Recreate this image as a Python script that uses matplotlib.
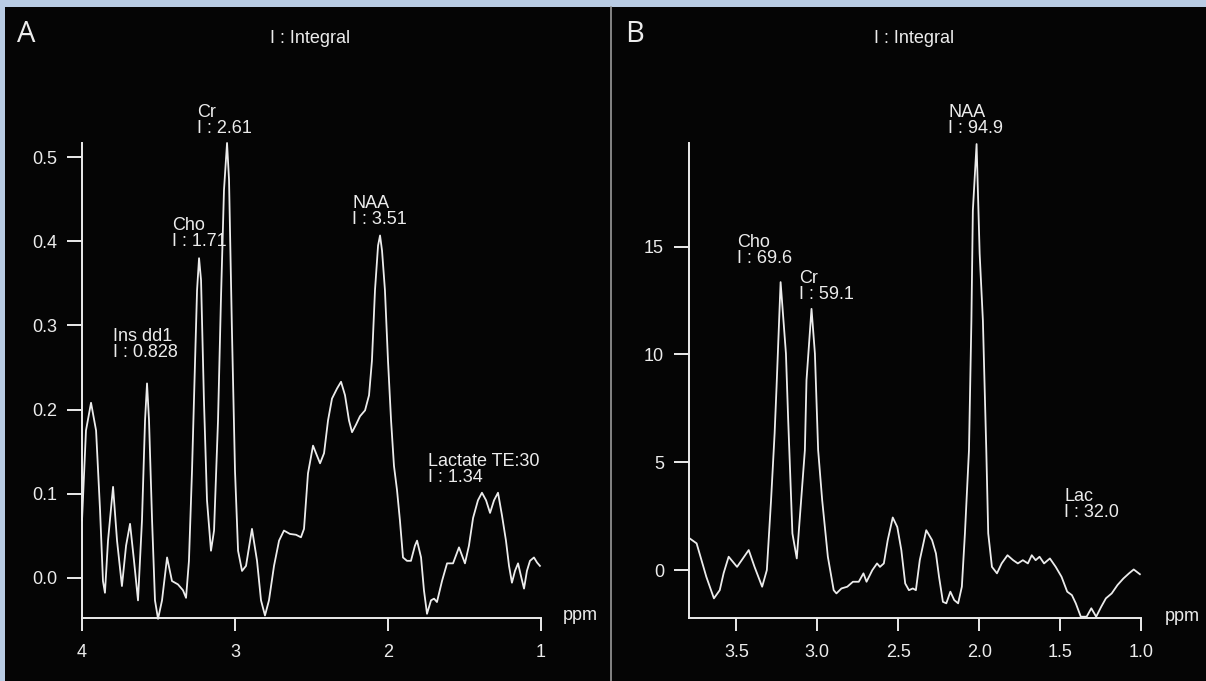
import matplotlib.pyplot as plt
from matplotlib.patches import Rectangle
from matplotlib.lines import Line2D

# spectrum A (short TE), ppm vs amplitude
ppm_a = [4.000, 3.974, 3.941, 3.908, 3.882, 3.863, 3.850, 3.830, 3.797, 3.771,
         3.739, 3.712, 3.686, 3.660, 3.634, 3.608, 3.588, 3.575, 3.562, 3.542,
         3.523, 3.503, 3.477, 3.444, 3.412, 3.373, 3.340, 3.320, 3.301, 3.281,
         3.261, 3.248, 3.235, 3.222, 3.203, 3.183, 3.157, 3.137, 3.111, 3.092,
         3.072, 3.052, 3.039, 3.020, 3.000, 2.980, 2.954, 2.928, 2.889, 2.856,
         2.830, 2.804, 2.778, 2.745, 2.712, 2.680, 2.641, 2.601, 2.569, 2.549,
         2.523, 2.490, 2.464, 2.444, 2.418, 2.392, 2.366, 2.333, 2.307, 2.281,
         2.255, 2.235, 2.209, 2.183, 2.150, 2.124, 2.105, 2.085, 2.065, 2.052,
         2.039, 2.020, 2.000, 1.980, 1.961, 1.941, 1.922, 1.902, 1.876, 1.850,
         1.824, 1.810, 1.784, 1.765, 1.745, 1.719, 1.699, 1.680, 1.647, 1.614,
         1.575, 1.536, 1.497, 1.471, 1.444, 1.412, 1.386, 1.359, 1.333, 1.307,
         1.281, 1.255, 1.229, 1.209, 1.190, 1.170, 1.150, 1.131, 1.111, 1.092,
         1.072, 1.046, 1.026, 1.007]
amp_a = [0.068, 0.175, 0.208, 0.175, 0.080, -0.004, -0.018, 0.044, 0.108, 0.044,
         -0.010, 0.038, 0.064, 0.020, -0.027, 0.068, 0.187, 0.231, 0.187, 0.068,
         -0.027, -0.049, -0.027, 0.024, -0.004, -0.008, -0.015, -0.024, 0.020, 0.127,
         0.258, 0.342, 0.380, 0.354, 0.211, 0.092, 0.032, 0.056, 0.187, 0.330,
         0.461, 0.517, 0.473, 0.294, 0.127, 0.032, 0.008, 0.014, 0.058, 0.020,
         -0.027, -0.045, -0.027, 0.014, 0.044, 0.056, 0.052, 0.051, 0.048, 0.058,
         0.124, 0.157, 0.145, 0.136, 0.148, 0.187, 0.213, 0.225, 0.233, 0.217,
         0.187, 0.173, 0.182, 0.192, 0.199, 0.217, 0.258, 0.342, 0.395, 0.407,
         0.389, 0.342, 0.258, 0.187, 0.133, 0.104, 0.068, 0.024, 0.020, 0.020,
         0.038, 0.044, 0.024, -0.015, -0.043, -0.027, -0.025, -0.029, -0.004, 0.017,
         0.017, 0.036, 0.017, 0.038, 0.071, 0.092, 0.101, 0.092, 0.077, 0.092,
         0.101, 0.074, 0.044, 0.014, -0.006, 0.008, 0.017, 0.002, -0.013, 0.008,
         0.020, 0.024, 0.018, 0.014]

# spectrum B (long TE)
ppm_b = [3.789, 3.746, 3.686, 3.639, 3.603, 3.579, 3.548, 3.496, 3.460, 3.424,
         3.388, 3.341, 3.312, 3.286, 3.264, 3.252, 3.227, 3.194, 3.180, 3.154,
         3.127, 3.077, 3.067, 3.036, 3.015, 2.995, 2.970, 2.935, 2.899, 2.882,
         2.851, 2.815, 2.780, 2.744, 2.715, 2.696, 2.660, 2.631, 2.613, 2.589,
         2.565, 2.534, 2.506, 2.481, 2.457, 2.434, 2.410, 2.391, 2.367, 2.327,
         2.291, 2.267, 2.248, 2.224, 2.203, 2.178, 2.154, 2.130, 2.107, 2.088,
         2.063, 2.048, 2.039, 2.016, 1.997, 1.977, 1.956, 1.944, 1.921, 1.890,
         1.861, 1.825, 1.790, 1.761, 1.730, 1.699, 1.675, 1.651, 1.627, 1.599,
         1.563, 1.527, 1.491, 1.456, 1.427, 1.403, 1.372, 1.336, 1.307, 1.277,
         1.246, 1.217, 1.181, 1.145, 1.109, 1.074, 1.045, 1.026, 1.007]
amp_b = [1.47, 1.24, -0.31, -1.31, -0.93, -0.14, 0.62, 0.15, 0.54, 0.93,
         0.15, -0.77, 0.00, 3.24, 6.33, 8.49, 13.35, 10.04, 6.94, 1.70,
         0.54, 5.56, 8.80, 12.11, 10.04, 5.56, 3.24, 0.62, -0.93, -1.08,
         -0.85, -0.77, -0.54, -0.54, -0.15, -0.54, 0.00, 0.31, 0.15, 0.31,
         1.39, 2.44, 2.00, 0.93, -0.62, -0.93, -0.85, -0.93, 0.46, 1.85,
         1.39, 0.77, -0.31, -1.47, -1.54, -1.00, -1.39, -1.54, -0.77, 1.70,
         5.56, 11.57, 16.67, 19.75, 14.67, 11.57, 5.56, 1.70, 0.15, -0.15,
         0.31, 0.69, 0.46, 0.31, 0.46, 0.31, 0.69, 0.46, 0.62, 0.31,
         0.54, 0.15, -0.31, -1.00, -1.16, -1.54, -2.16, -2.16, -1.77, -2.16,
         -1.70, -1.31, -1.08, -0.69, -0.39, -0.15, 0.03, -0.08, -0.19]

xticks_a = [4, 3, 2, 1]
yticks_a = [0.0, 0.1, 0.2, 0.3, 0.4, 0.5]
xticks_b = [3.5, 3.0, 2.5, 2.0, 1.5, 1.0]
yticks_b = [0, 5, 10, 15]

# peak labels: (name, integral text, left px, baseline px of first line)
labels_a = [('Cr', 'I : 2.61', 197, 117), ('Cho', 'I : 1.71', 172, 230),
            ('Ins dd1', 'I : 0.828', 113, 341), ('NAA', 'I : 3.51', 352, 208),
            ('Lactate TE:30', 'I : 1.34', 428, 466)]
labels_b = [('NAA', 'I : 94.9', 948, 117), ('Cho', 'I : 69.6', 737, 247),
            ('Cr', 'I : 59.1', 799, 283), ('Lac', 'I : 32.0', 1064, 501)]

W, H = 1206, 681
fg = '#ececec'
fs = 13
plt.rcParams['font.family'] = ['Liberation Sans', 'DejaVu Sans']

fig = plt.figure(figsize=(W / 100, H / 100), dpi=100)
fig.patch.set_facecolor('#b9cce4')


def fx(x):
    return x / W


def fy(y):
    return 1 - y / H


fig.add_artist(Rectangle((fx(5), 0), fx(W) - fx(5), fy(7), transform=fig.transFigure,
                         facecolor='#050505', edgecolor='none', zorder=0))
fig.add_artist(Line2D([fx(611), fx(611)], [0, fy(7)], color='#9a9a9a', lw=1.2))


def make_axes(left, right, top, bottom, xlim, ylim, xticks, yticks, xfmt, yfmt):
    ax = fig.add_axes([fx(left), fy(bottom), (right - left) / W, (bottom - top) / H])
    ax.set_facecolor('none')
    ax.set_xlim(xlim)
    ax.set_ylim(ylim)
    for s in ['top', 'right']:
        ax.spines[s].set_visible(False)
    for s in ['left', 'bottom']:
        ax.spines[s].set_color(fg)
        ax.spines[s].set_linewidth(1.4)
    ax.set_xticks(xticks)
    ax.set_xticklabels([xfmt.format(v) for v in xticks])
    ax.set_yticks(yticks)
    ax.set_yticklabels([yfmt.format(v) for v in yticks])
    ax.tick_params(axis='x', colors=fg, length=9, width=1.4, pad=10, labelsize=fs)
    ax.tick_params(axis='y', colors=fg, length=11, width=1.4, pad=7, labelsize=fs)
    return ax


ax_a = make_axes(82, 541, 143, 618, (4, 1), (-0.048, 0.517), xticks_a, yticks_a, '{:d}', '{:.1f}')
ax_a.plot(ppm_a, amp_a, color=fg, lw=1.3, clip_on=False)

ax_b = make_axes(689, 1141, 143, 618, (3.793, 1.0), (-2.22, 19.8), xticks_b, yticks_b, '{:.1f}', '{:d}')
ax_b.plot(ppm_b, amp_b, color=fg, lw=1.3, clip_on=False)

for name, integ, x, y in labels_a + labels_b:
    fig.text(fx(x), fy(y), name, color=fg, fontsize=fs, va='baseline', ha='left')
    fig.text(fx(x), fy(y + 16), integ, color=fg, fontsize=fs, va='baseline', ha='left')

# panel titles and units
fig.text(fx(17), fy(42), 'A', color=fg, fontsize=21, va='baseline', ha='left', family='Open Sans')
fig.text(fx(625), fy(42), 'B', color=fg, fontsize=21, va='baseline', ha='left', family='Open Sans')
fig.text(fx(310), fy(43), 'I : Integral', color=fg, fontsize=fs, va='baseline', ha='center')
fig.text(fx(914), fy(43), 'I : Integral', color=fg, fontsize=fs, va='baseline', ha='center')
fig.text(fx(563), fy(620), 'ppm', color=fg, fontsize=fs, va='baseline', ha='left')
fig.text(fx(1165), fy(621), 'ppm', color=fg, fontsize=fs, va='baseline', ha='left')

fig.savefig('out.png', dpi=100, facecolor=fig.get_facecolor())
